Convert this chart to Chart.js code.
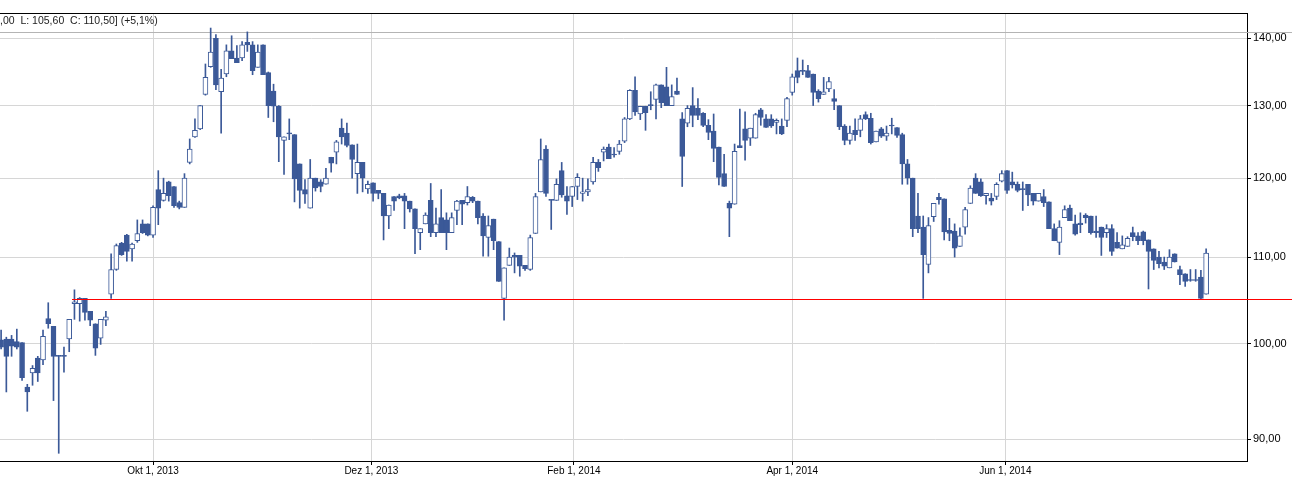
<!DOCTYPE html>
<html><head><meta charset="utf-8">
<script src="https://cdn.jsdelivr.net/npm/chart.js@4/dist/chart.umd.min.js"></script>
<style>html,body{margin:0;padding:0;background:#fff;overflow:hidden}#wrap{width:1292px;height:478px}</style>
</head><body><div id="wrap"><canvas id="c" width="1292" height="478"></canvas></div>
<script>
// ---- data (trading-day index 0..230) ----
const openP = [
100.4,100.5,100.5,100.2,100.1,95.3,96.8,98.4,98.2,102.8,
101.9,98.6,98.6,100.5,104.5,104.5,105.1,103.6,102.2,100.6,
102.6,105.6,108.5,111.7,112.7,111.0,112.0,114.1,114.1,112.7,
118.5,117.1,119.5,118.9,116.8,116.2,122.1,125.6,126.7,131.6,
135.7,140.0,132.0,134.6,138.1,137.0,137.0,139.4,139.0,135.6,
139.0,134.8,132.1,129.9,125.1,126.1,125.9,121.9,118.5,116.1,
120.0,119.5,119.2,122.8,123.5,126.8,126.1,124.5,120.6,122.1,
118.6,119.4,118.4,118.0,115.1,117.6,117.7,117.7,117.0,116.0,
113.0,114.1,117.1,113.0,114.9,114.6,113.0,115.8,117.1,116.8,
117.5,117.0,115.1,112.4,114.7,111.9,105.1,109.0,110.2,110.2,
109.0,108.5,112.9,118.2,123.9,117.1,117.1,121.0,117.7,117.6,
118.9,118.0,118.2,119.5,122.1,123.5,124.2,123.1,123.6,125.0,
128.1,132.2,128.8,129.9,130.0,130.9,133.0,132.7,130.0,132.1,
128.1,127.5,130.0,129.6,128.9,127.2,126.4,124.2,120.6,116.7,
116.6,124.4,126.7,125.4,125.4,129.4,128.1,128.1,127.6,127.1,
127.9,131.9,135.1,135.1,135.1,134.6,132.1,131.6,132.4,131.0,
130.0,127.1,125.1,126.5,126.5,128.7,128.2,124.9,126.7,125.7,
127.1,126.9,125.9,121.9,120.0,115.1,113.7,109.1,115.0,117.5,
117.3,113.3,113.2,111.3,113.7,116.7,120.0,119.5,117.7,117.4,
117.6,119.6,121.0,119.5,119.2,118.5,119.2,118.0,117.0,117.6,
116.9,113.5,111.8,114.9,116.1,114.1,114.2,115.2,115.1,113.2,
113.7,113.0,113.5,111.8,111.0,111.3,113.0,112.6,113.1,112.1,
111.0,110.0,109.4,108.7,110.4,108.5,108.0,107.2,107.2,107.6,
105.6];
const highP = [
101.5,100.7,100.9,101.6,100.1,95.6,97.6,98.6,101.5,104.6,
101.9,98.7,99.6,102.7,106.1,105.2,105.1,103.6,102.2,102.7,
103.6,110.4,111.6,111.8,112.8,111.7,114.6,114.6,114.1,116.4,
121.0,120.0,119.6,118.9,117.0,120.6,125.3,128.1,130.0,136.1,
141.6,140.6,135.3,139.0,140.4,138.9,139.5,141.0,139.5,139.0,
139.0,134.9,133.1,130.0,125.6,128.1,125.9,121.9,119.8,122.5,
120.0,119.8,121.3,122.8,125.1,128.1,127.5,124.5,124.6,122.1,
119.6,119.4,118.4,118.0,116.5,117.6,117.9,118.0,117.0,116.0,
113.5,115.5,119.3,116.1,118.5,115.5,115.5,117.1,117.1,118.9,
117.6,117.0,115.4,115.1,114.7,111.9,108.7,111.1,110.5,110.2,
109.0,112.7,118.0,125.3,124.4,117.2,119.9,122.1,118.9,118.9,
120.6,120.0,119.9,122.8,122.5,124.2,124.6,124.1,125.1,128.3,
132.3,134.2,129.9,129.9,132.0,133.1,133.0,135.6,133.0,134.0,
129.0,130.0,132.6,131.0,129.0,128.0,128.8,124.2,123.2,117.0,
124.6,129.5,129.1,126.8,128.9,129.6,128.7,128.7,128.1,128.1,
131.2,134.6,137.0,136.7,135.9,134.6,132.3,134.1,134.1,132.3,
130.0,127.3,127.1,128.1,128.6,129.1,128.9,126.4,126.9,127.1,
128.2,126.9,126.1,122.5,120.0,118.0,115.1,114.9,116.7,118.0,
117.3,114.8,114.1,113.6,116.2,119.0,120.6,119.9,118.0,118.0,
119.4,121.0,121.0,120.8,119.5,119.5,119.2,118.0,118.0,118.5,
116.9,114.1,114.5,116.4,116.5,115.2,115.5,115.4,115.1,115.1,
113.7,114.0,114.0,113.0,112.6,112.5,113.7,113.0,113.2,112.1,
111.0,110.7,110.0,110.9,110.4,108.9,108.0,108.5,108.5,108.4,
111.0];
const lowP = [
99.4,94.8,98.6,99.4,96.0,92.8,95.5,95.9,97.7,101.7,
93.9,88.6,96.9,99.1,102.7,102.5,102.6,102.0,98.7,99.9,
102.0,105.1,108.4,110.2,109.5,109.5,111.8,112.9,112.6,112.4,
114.0,117.0,117.0,116.2,116.0,116.2,121.9,125.5,126.6,131.5,
135.6,132.3,126.1,134.2,136.9,136.3,136.6,138.0,134.5,135.6,
134.5,128.3,127.7,122.2,120.5,125.2,116.9,116.1,116.7,116.1,
118.3,118.2,119.2,120.8,121.9,124.6,124.2,120.0,118.0,118.2,
118.0,117.0,117.3,112.1,113.5,115.8,117.3,113.5,115.6,110.4,
110.9,114.1,112.5,112.5,113.0,110.9,113.0,114.0,114.0,116.5,
116.8,114.1,110.1,110.1,110.9,107.1,102.6,109.0,108.1,107.7,
108.4,108.4,112.9,118.2,117.6,113.4,117.1,117.5,115.3,116.3,
117.2,117.0,117.7,119.2,120.9,122.3,122.6,122.8,123.2,124.8,
128.0,128.6,128.0,126.5,129.4,128.1,129.7,130.0,130.0,131.6,
118.9,127.0,127.0,128.0,127.0,125.2,122.2,119.1,118.9,112.5,
116.6,124.1,122.4,124.4,125.4,127.2,126.9,126.9,126.0,125.9,
127.0,131.5,133.3,134.5,134.1,130.0,130.5,131.6,132.0,129.4,
126.6,124.5,124.6,125.1,125.6,128.0,124.6,124.9,125.5,125.1,
126.0,125.5,119.2,119.2,112.5,113.0,105.1,108.1,114.4,116.6,
112.1,112.0,110.0,111.3,112.8,116.7,118.0,117.6,116.6,116.5,
117.2,119.5,118.0,118.7,118.2,115.8,116.4,116.5,117.0,116.3,
113.5,112.0,110.3,114.9,114.5,112.7,113.0,114.2,112.8,112.4,
110.2,112.4,110.2,111.1,111.0,111.3,112.0,111.5,111.5,106.2,
108.5,108.7,108.5,108.7,109.4,106.7,106.5,107.1,107.1,105.0,
105.6];
const closeP = [
99.6,98.6,99.7,99.6,96.3,94.8,97.3,96.8,100.8,102.2,
98.6,98.6,98.6,102.7,104.7,105.1,103.5,102.6,99.5,102.7,
103.0,108.5,111.4,110.3,110.7,111.6,112.9,113.0,112.7,116.2,
116.1,118.0,117.7,116.4,116.2,120.0,123.9,126.5,130.0,134.1,
137.9,133.0,134.0,138.1,136.9,136.3,139.0,139.0,135.1,137.9,
134.5,130.0,129.9,125.6,125.6,126.0,119.9,118.4,117.9,120.0,
118.7,118.9,120.0,122.0,124.9,125.6,124.4,122.5,122.1,120.0,
119.2,118.0,118.0,115.1,116.5,117.0,117.4,117.0,116.0,113.5,
113.5,115.2,113.0,114.1,113.0,113.0,114.9,117.0,116.6,117.6,
117.0,114.9,112.6,113.9,112.0,107.1,108.7,110.0,110.0,108.9,
108.6,112.4,117.6,122.5,118.0,117.1,119.2,117.8,117.0,118.9,
120.1,118.2,118.5,122.1,121.4,123.9,122.6,123.1,124.6,128.1,
132.2,129.1,129.9,129.0,130.0,133.0,130.4,130.0,131.3,131.6,
122.9,129.6,128.6,128.6,127.2,126.2,124.0,120.1,118.9,116.1,
123.6,124.1,125.1,126.8,128.7,128.3,126.9,127.1,127.9,126.0,
131.0,134.2,134.1,135.0,134.1,131.9,131.0,132.0,133.5,130.6,
127.0,125.1,126.1,125.9,128.1,128.1,124.8,126.4,125.7,126.1,
127.1,125.8,121.9,120.0,113.5,113.5,110.3,113.9,116.7,117.2,
113.1,112.9,111.1,112.6,115.9,118.7,118.0,117.7,118.0,117.0,
119.2,120.6,118.4,119.1,118.4,118.5,117.8,117.0,118.0,116.8,
113.5,112.0,113.7,115.9,114.5,112.8,114.0,114.9,113.0,113.0,
112.4,113.5,110.7,111.1,111.5,112.3,112.5,112.0,112.0,110.7,
109.6,109.2,108.9,110.0,109.4,107.9,107.1,107.2,107.2,105.1,
110.5];
const yTickValues = [90, 100, 110, 120, 130, 140];
const xTickIndex = [29, 70.67, 109.33, 151, 191.67];
const xTickLabels = ['Okt 1, 2013', 'Dez 1, 2013', 'Feb 1, 2014', 'Apr 1, 2014', 'Jun 1, 2014'];
const supportLevel = 105.0;
const supportStartIndex = 13.6;
const headerText = ',00  L: 105,60  C: 110,50] (+5,1%)';
const xRange = [-0.21, 237.8];
const yRange = [87.85, 143.97];

// ---- styles ----
const BLUE = '#3b5998';
const GRID = '#d6d6d6';
const RED = '#ff0000';
Chart.defaults.font.family = '"Liberation Sans", Arial, sans-serif';
Chart.defaults.color = '#000';

const bodyData = openP.map((o, i) => ({x: i, y: [o, closeP[i]]}));
const wickData = lowP.map((l, i) => ({x: i, y: [l, highP[i]]}));
const bodyFill = openP.map((o, i) => closeP[i] > o ? '#ffffff' : BLUE);

const framePlugin = {
  id: 'frame',
  beforeDatasetsDraw(chart) {
    const ctx = chart.ctx, a = chart.chartArea;
    ctx.save();
    ctx.fillStyle = '#b4b4b4';
    ctx.fillRect(0, a.top + 19, chart.width, 1);
    ctx.restore();
  },
  afterDatasetsDraw(chart) {
    const ctx = chart.ctx;
    const yRow = Math.round(chart.scales.y.getPixelForValue(supportLevel));
    const x0 = Math.round(chart.scales.x.getPixelForValue(supportStartIndex));
    ctx.save();
    ctx.fillStyle = RED;
    ctx.fillRect(x0, yRow, chart.width - x0, 1);
    ctx.restore();
  },
  afterDraw(chart) {
    const ctx = chart.ctx, a = chart.chartArea;
    ctx.save();
    ctx.fillStyle = '#000';
    ctx.fillRect(0, a.top, a.right + 1, 1);
    ctx.font = '10.5px "Liberation Sans", Arial, sans-serif';
    ctx.fillStyle = '#222';
    ctx.textBaseline = 'middle';
    ctx.textAlign = 'left';
    ctx.fillText(headerText, 0, a.top + 8);
    ctx.restore();
  }
};

new Chart(document.getElementById('c'), {
  type: 'bar',
  data: {
    datasets: [
      {
        data: bodyData,
        backgroundColor: bodyFill,
        borderColor: BLUE,
        borderWidth: 1,
        borderSkipped: false,
        barThickness: 5,
        minBarLength: 1,
        grouped: false,
        order: 0
      },
      {
        data: wickData,
        backgroundColor: BLUE,
        borderWidth: 0,
        barThickness: 1,
        grouped: false,
        order: 1
      }
    ]
  },
  options: {
    responsive: false,
    devicePixelRatio: 1,
    animation: false,
    layout: {padding: {top: 13, left: 0, right: 0, bottom: 0}},
    plugins: {legend: {display: false}, tooltip: {enabled: false}},
    scales: {
      x: {
        type: 'linear',
        position: 'bottom',
        min: xRange[0],
        max: xRange[1],
        bounds: 'data',
        offset: false,
        afterBuildTicks: s => { s.ticks = xTickIndex.map(v => ({value: v})); },
        afterFit: s => { s.height = 17; },
        ticks: {
          autoSkip: false,
          maxRotation: 0,
          padding: 0,
          font: {size: 10},
          color: '#000',
          callback: (v, i) => xTickLabels[i]
        },
        grid: {color: GRID, tickColor: '#000', tickLength: 4, offset: false},
        border: {display: true, color: '#000', width: 1}
      },
      y: {
        type: 'logarithmic',
        position: 'right',
        min: yRange[0],
        max: yRange[1],
        bounds: 'data',
        afterBuildTicks: s => { s.ticks = yTickValues.map(v => ({value: v})); },
        afterFit: s => { s.width = 45; },
        ticks: {
          padding: 2,
          font: {size: 11},
          color: '#000',
          callback: v => Number(v).toFixed(2).replace('.', ',')
        },
        grid: {color: GRID, tickColor: '#000', tickLength: 4},
        border: {display: true, color: '#000', width: 1}
      }
    }
  },
  plugins: [framePlugin]
});
</script>
</body></html>
